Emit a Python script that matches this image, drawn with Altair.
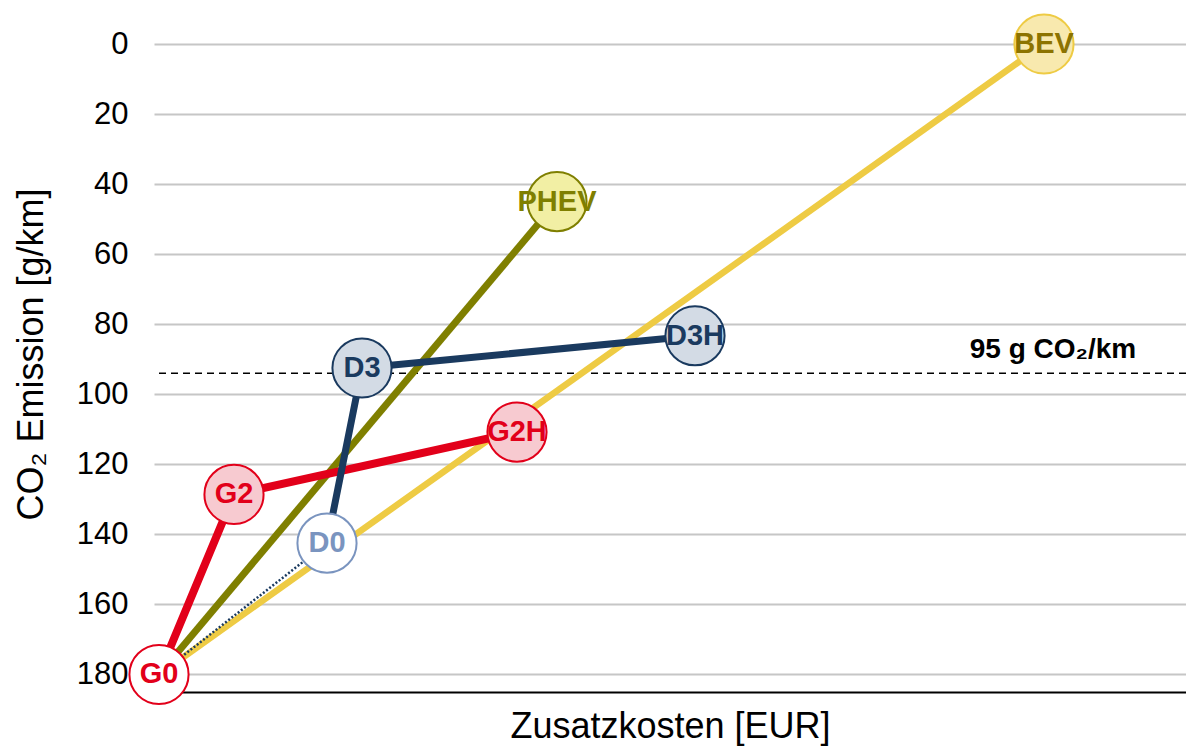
import altair as alt
import pandas as pd

# ---- data ----
names = ["G0", "G2", "G2H", "D0", "D3", "D3H", "PHEV", "BEV"]
cost = [0, 750, 3580, 1680, 2030, 5360, 3980, 8850]          # Zusatzkosten [EUR] (no tick labels in original)
co2 = [180, 128.6, 110.8, 142.5, 92.5, 83.3, 45, 0]          # CO2 emission [g/km]

fills = ["#ffffff", "#f7cad0", "#f7cad0", "#ffffff", "#d3dbe5", "#d3dbe5", "#f2efa4", "#f8e9ae"]
strokes = ["#e2001a", "#e2001a", "#e2001a", "#7a94bf", "#1a3a5f", "#1a3a5f", "#7f7f00", "#eecb44"]
textcols = ["#e2001a", "#e2001a", "#e2001a", "#7a94bf", "#1a3a5f", "#1a3a5f", "#7f7f00", "#8c7300"]

# connecting paths (drawn bottom to top)
path_yellow = ["G0", "BEV"]
path_olive = ["G0", "PHEV"]
path_red = ["G0", "G2", "G2H"]
path_dotted = ["G0", "D0"]
path_blue = ["D0", "D3", "D3H"]

limit_value = [94]
limit_label = ["95 g CO₂/km"]
limit_label_pos = [8940, 87.5]

y_ticks = [0, 20, 40, 60, 80, 100, 120, 140, 160, 180]

pts = pd.DataFrame({"name": names, "cost": cost, "co2": co2,
                    "fill": fills, "stroke": strokes, "tcol": textcols})
lookup = {n: (c, e) for n, c, e in zip(names, cost, co2)}


def path_df(path):
    return pd.DataFrame({"order": list(range(len(path))),
                         "cost": [lookup[p][0] for p in path],
                         "co2": [lookup[p][1] for p in path]})


FONT = "Liberation Sans"
xscale = alt.Scale(domain=[-50, 10270], nice=False, zero=False)
yscale = alt.Scale(domain=[0, 185], reverse=True, nice=False, zero=False)

xenc = alt.X("cost:Q", scale=xscale,
             axis=alt.Axis(title="Zusatzkosten [EUR]", labels=False, ticks=False, grid=False,
                           domain=True, domainColor="#000000", domainWidth=2,
                           titleFont=FONT, titleFontSize=36, titleFontWeight="normal",
                           titleColor="#000000", titleBaseline="alphabetic", titleY=45))
yenc = alt.Y("co2:Q", scale=yscale,
             axis=alt.Axis(title="CO₂ Emission [g/km]", values=y_ticks, ticks=False, domain=False,
                           grid=True, gridColor="#c6c6c6", gridWidth=2,
                           labelFont=FONT, labelFontSize=31, labelColor="#000000", labelPadding=26,
                           titleFont=FONT, titleFontSize=36, titleFontWeight="normal",
                           titleColor="#000000", titleAngle=-90, titleBaseline="middle",
                           titleAlign="center", titleX=-123, titleY=310))

base_x = alt.X("cost:Q", scale=xscale)
base_y = alt.Y("co2:Q", scale=yscale)

rule = alt.Chart(pd.DataFrame({"v": limit_value})).mark_rule(
    color="#000000", strokeWidth=1.5, strokeDash=[7, 5]).encode(y=alt.Y("v:Q", scale=yscale))

label95 = alt.Chart(pd.DataFrame({"t": limit_label, "x": [limit_label_pos[0]], "y": [limit_label_pos[1]]})).mark_text(
    font=FONT, fontSize=28, fontWeight="bold", color="#000000", align="center", baseline="middle"
).encode(x=alt.X("x:Q", scale=xscale), y=alt.Y("y:Q", scale=yscale), text="t:N")


def line_layer(path, color, width, dash=None):
    kw = dict(color=color, strokeWidth=width, strokeCap="butt")
    if dash:
        kw["strokeDash"] = dash
    return alt.Chart(path_df(path)).mark_line(**kw).encode(x=base_x, y=base_y, order="order:Q")


axes_layer = alt.Chart(pts).mark_point(opacity=0).encode(x=xenc, y=yenc)

l_yellow = line_layer(path_yellow, "#eecb44", 6.5)
l_olive = line_layer(path_olive, "#7f7f00", 7)
l_red = line_layer(path_red, "#e2001a", 8)
l_dotted = line_layer(path_dotted, "#1a3a5f", 2.5, [2, 2])
l_blue = line_layer(path_blue, "#1a3a5f", 7)

circles = alt.Chart(pts).mark_point(shape="circle", filled=True, size=3500, opacity=1, strokeWidth=2).encode(
    x=base_x, y=base_y,
    fill=alt.Fill("fill:N", scale=None),
    stroke=alt.Stroke("stroke:N", scale=None))

texts = alt.Chart(pts).mark_text(font=FONT, fontSize=29, fontWeight="bold", align="center",
                                 baseline="middle").encode(
    x=base_x, y=base_y, text="name:N", color=alt.Color("tcol:N", scale=None))

chart = alt.layer(axes_layer, rule, label95, l_yellow, l_olive, l_red, l_dotted, l_blue, circles, texts).properties(
    width=1032, height=648,
    autosize=alt.AutoSizeParams(type="none"),
    padding={"left": 146, "top": 36, "right": 0, "bottom": 55},
    background="#ffffff",
).configure_view(stroke=None)

chart.save("out.html", embed_options={"renderer": "svg", "actions": False})
